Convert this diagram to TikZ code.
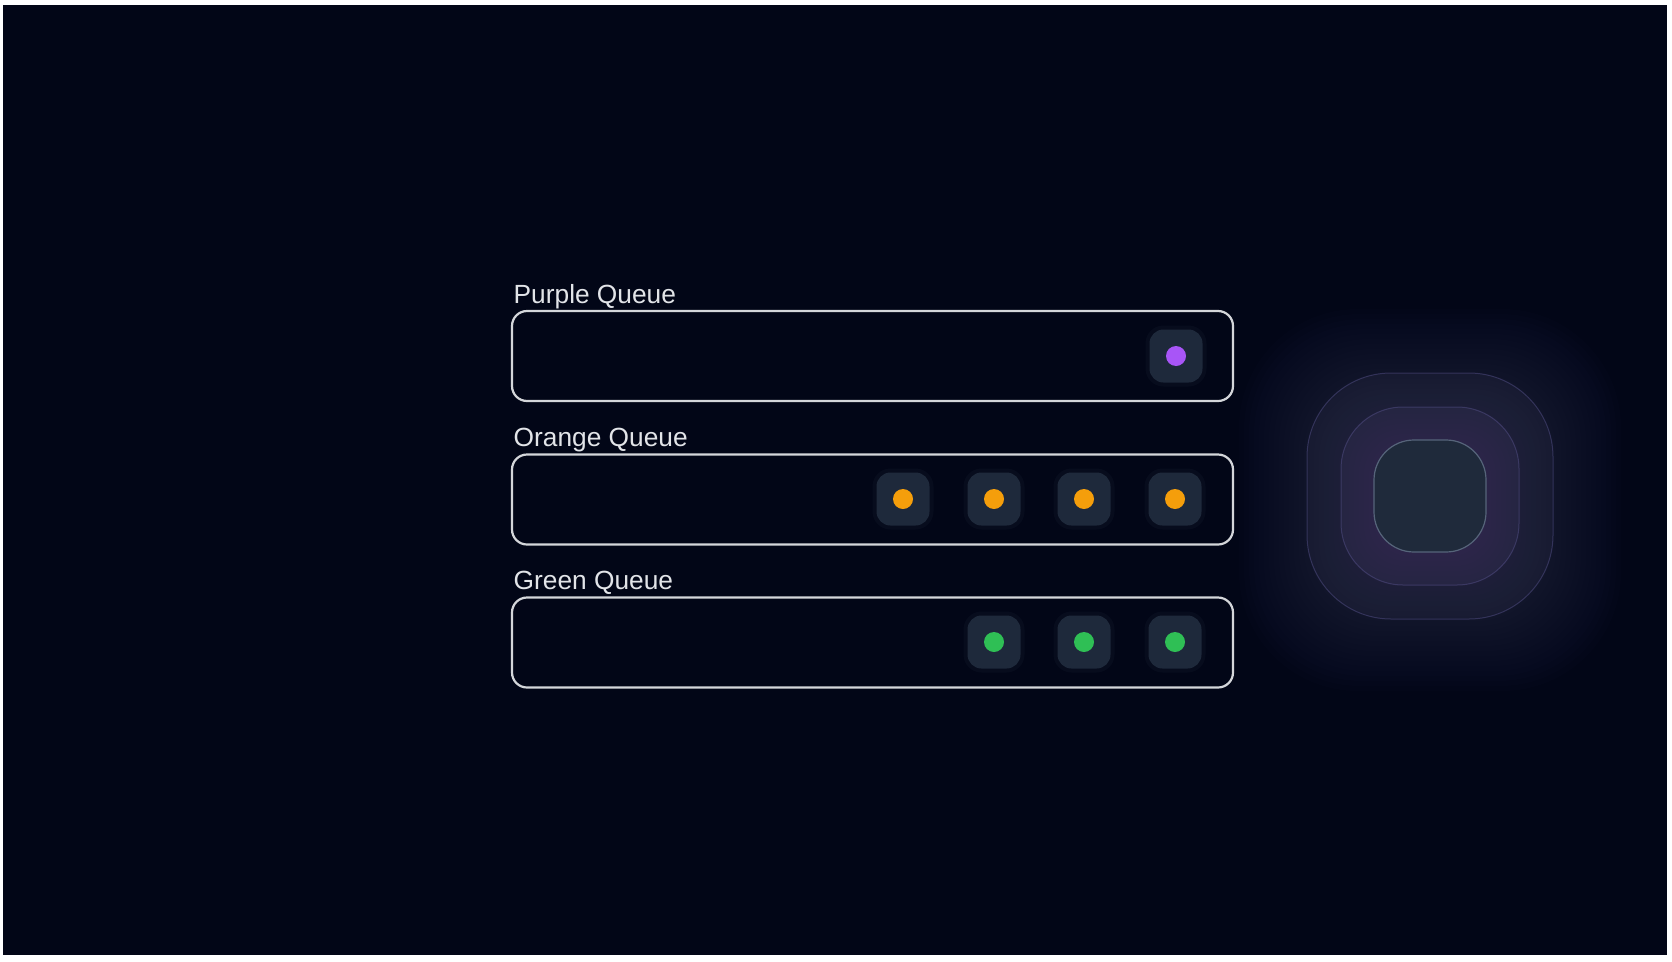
\documentclass[tikz,border=0pt]{standalone}
\usepackage{fontspec}
\setmainfont{Liberation Sans}
\definecolor{bgc}{HTML}{020617}
\definecolor{boxline}{HTML}{D4D6DA}
\definecolor{labelc}{HTML}{E2E4E8}
\definecolor{tilec}{HTML}{1E293B}
\definecolor{purpc}{HTML}{A855F7}
\definecolor{orac}{HTML}{F59E0B}
\definecolor{grec}{HTML}{2FBF55}
\definecolor{glowc}{HTML}{8A6CC8}
\definecolor{ringc}{HTML}{8A80C0}
\definecolor{coref}{HTML}{1F2A3B}
\definecolor{corel}{HTML}{56647A}
\definecolor{ringl}{HTML}{5A5590}
\tikzset{
  queuebox/.style={draw=boxline, line width=2.2pt, rounded corners=15pt,
    minimum width=721pt, minimum height=90pt, inner sep=0pt},
  qlabel/.style={text=labelc, font=\fontsize{26.3}{31}\selectfont, inner sep=0pt, anchor=base west},
  tile/.style={fill=tilec, rounded corners=14pt, minimum size=53pt, inner sep=0pt},
  tileglow/.style={fill=tilec, opacity=0.18, rounded corners=18pt, minimum size=61pt, inner sep=0pt},
  dot/.style={circle, minimum size=20pt, inner sep=0pt},
  ringbox/.style={draw=ringl, line width=1pt, draw opacity=0.45, inner sep=0pt},
}
\begin{document}
\begin{tikzpicture}[x=1pt,y=-1pt]
\useasboundingbox (0,0) rectangle (1672,961);
\fill[white] (0,0) rectangle (1672,961);
\fill[bgc] (3,5) rectangle (1667,955);
% glow
\foreach \h [evaluate=\h as \rr using 0.62*\h] in {56,61,...,191} {
  \fill[glowc, opacity=0.011, rounded corners=\rr pt] ({1430-\h},{500-\h}) rectangle ({1430+\h},{500+\h});
}
% rings
\node[ringbox, fill=ringc, fill opacity=0.06, rounded corners=84pt, minimum size=246pt] (ring3) at (1430,496) {};
\node[ringbox, fill=ringc, fill opacity=0.08, rounded corners=62pt, minimum size=178pt] (ring2) at (1430,496) {};
\node[fill=coref, draw=corel, line width=1.2pt, rounded corners=40pt, minimum size=112pt, inner sep=0pt] (core) at (1430,496) {};

% queues
\node[queuebox] (pq) at (872.5,356) {};
\node[queuebox] (oq) at (872.5,499.5) {};
\node[queuebox] (gq) at (872.5,642.5) {};
\node[qlabel] (pql) at (513.5,303) {Purple Queue};
\node[qlabel] (oql) at (513.5,446) {Orange Queue};
\node[qlabel] (gql) at (513.5,589) {Green Queue};

% purple tile
\node[tileglow] at (1176,356) {};
\node[tile] (p1) at (1176,356) {};
\node[dot, fill=purpc] (p1d) at (p1.center) {};

% orange tiles
\foreach \x/\n in {903/o1,994/o2,1084/o3,1175/o4} {
  \node[tileglow] at (\x,499) {};
  \node[tile] (\n) at (\x,499) {};
  \node[dot, fill=orac] (\n d) at (\n.center) {};
}
% green tiles
\foreach \x/\n in {994/g1,1084/g2,1175/g3} {
  \node[tileglow] at (\x,642) {};
  \node[tile] (\n) at (\x,642) {};
  \node[dot, fill=grec] (\n d) at (\n.center) {};
}
\end{tikzpicture}
\end{document}
